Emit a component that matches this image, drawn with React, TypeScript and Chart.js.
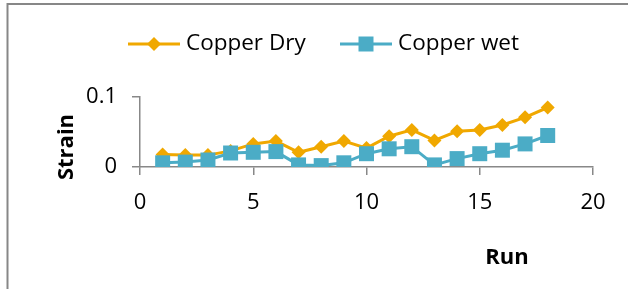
import React, { useEffect, useRef } from "react";
import { Chart, registerables } from "chart.js";

Chart.register(...registerables);

const runs = [1, 2, 3, 4, 5, 6, 7, 8, 9, 10, 11, 12, 13, 14, 15, 16, 17, 18];
const copperDry = [0.018, 0.017, 0.017, 0.023, 0.033, 0.037, 0.021, 0.029, 0.037, 0.027, 0.044, 0.053, 0.038, 0.051, 0.053, 0.06, 0.071, 0.085];
const copperWet = [0.006, 0.007, 0.01, 0.02, 0.021, 0.022, 0.003, 0.002, 0.006, 0.019, 0.026, 0.029, 0.003, 0.012, 0.019, 0.024, 0.033, 0.045];
const xTicks = [0, 5, 10, 15, 20];
const yTicks = [0, 0.1];
const seriesNames = ["Copper Dry", "Copper wet"];
const xTitle = "Run";
const yTitle = "Strain";

const DRY = "#F0A800";
const WET = "#4BACC6";
const FONT = "'Open Sans', sans-serif";

function drawMarker(ctx: CanvasRenderingContext2D, kind: string, x: number, y: number, color: string) {
  ctx.fillStyle = color;
  ctx.beginPath();
  if (kind === "diamond") {
    const r = 7;
    ctx.moveTo(x - r, y);
    ctx.lineTo(x, y - r);
    ctx.lineTo(x + r, y);
    ctx.lineTo(x, y + r);
    ctx.closePath();
  } else {
    const h = 7.5;
    ctx.rect(x - h, y - h, 2 * h, 2 * h);
  }
  ctx.fill();
}

const decor = {
  id: "decor",
  beforeDraw(chart: any) {
    const ctx = chart.ctx as CanvasRenderingContext2D;
    ctx.save();
    ctx.strokeStyle = "#878787";
    ctx.lineWidth = 2;
    ctx.beginPath();
    ctx.moveTo(7.5, chart.height);
    ctx.lineTo(7.5, 4);
    ctx.lineTo(chart.width, 4);
    ctx.stroke();
    ctx.restore();
  },
  afterDraw(chart: any) {
    const ctx = chart.ctx as CanvasRenderingContext2D;
    ctx.save();
    // legend
    const items = [
      { name: seriesNames[0], color: DRY, kind: "diamond", x0: 128 },
      { name: seriesNames[1], color: WET, kind: "square", x0: 340 },
    ];
    const ly = 44;
    for (const it of items) {
      ctx.strokeStyle = it.color;
      ctx.lineWidth = 3;
      ctx.beginPath();
      ctx.moveTo(it.x0, ly);
      ctx.lineTo(it.x0 + 52, ly);
      ctx.stroke();
      drawMarker(ctx, it.kind, it.x0 + 26, ly, it.color);
      ctx.fillStyle = "#000";
      ctx.font = `22.5px ${FONT}`;
      ctx.textAlign = "left";
      ctx.textBaseline = "middle";
      ctx.fillText(it.name, it.x0 + 58, ly);
    }
    // axis titles
    ctx.font = `bold 22px ${FONT}`;
    ctx.fillStyle = "#000";
    ctx.textAlign = "center";
    ctx.textBaseline = "middle";
    ctx.fillText(xTitle, 507, 258);
    ctx.translate(67, 147);
    ctx.rotate(-Math.PI / 2);
    ctx.fillText(yTitle, 0, 0);
    ctx.restore();
  },
};

export default function App() {
  const ref = useRef<HTMLCanvasElement>(null);
  useEffect(() => {
    document.body.style.margin = "0";
    const chart = new Chart(ref.current!, {
      type: "line",
      data: {
        datasets: [
          {
            label: seriesNames[0],
            data: runs.map((r, i) => ({ x: r, y: copperDry[i] })),
            borderColor: DRY,
            backgroundColor: DRY,
            borderWidth: 3,
            pointStyle: "rectRot",
            pointRadius: 7,
            pointBorderWidth: 0,
            order: 2,
          },
          {
            label: seriesNames[1],
            data: runs.map((r, i) => ({ x: r, y: copperWet[i] })),
            borderColor: WET,
            backgroundColor: WET,
            borderWidth: 3,
            pointStyle: "rect",
            pointRadius: 10.6,
            pointBorderWidth: 0,
            order: 1,
          },
        ],
      },
      options: {
        animation: false,
        responsive: true,
        maintainAspectRatio: false,
        layout: { padding: { left: 0, right: 35, top: 97, bottom: 0 } },
        plugins: { legend: { display: false }, tooltip: { enabled: false } },
        scales: {
          x: {
            type: "linear",
            min: 0,
            max: 20,
            afterBuildTicks: (s: any) => {
              s.ticks = xTicks.map((v) => ({ value: v }));
            },
            afterFit: (s: any) => {
              s.height = 122;
            },
            grid: { drawOnChartArea: false, drawTicks: true, tickLength: 8, color: "#888", lineWidth: 1.5 },
            border: { display: true, color: "#888", width: 1.5 },
            ticks: { color: "#000", font: { family: FONT, size: 22 }, padding: 15, maxRotation: 0 },
          },
          y: {
            type: "linear",
            min: 0,
            max: 0.1,
            afterBuildTicks: (s: any) => {
              s.ticks = yTicks.map((v) => ({ value: v }));
            },
            afterFit: (s: any) => {
              s.width = 140;
            },
            grid: { drawOnChartArea: false, drawTicks: true, tickLength: 8, color: "#888", lineWidth: 1.5 },
            border: { display: true, color: "#888", width: 1.5 },
            ticks: { color: "#000", font: { family: FONT, size: 22 }, padding: 15 },
          },
        },
      },
      plugins: [decor],
    });
    return () => chart.destroy();
  }, []);
  return (
    <div style={{ position: "relative", width: 628, height: 289 }}>
      <canvas ref={ref} />
    </div>
  );
}
